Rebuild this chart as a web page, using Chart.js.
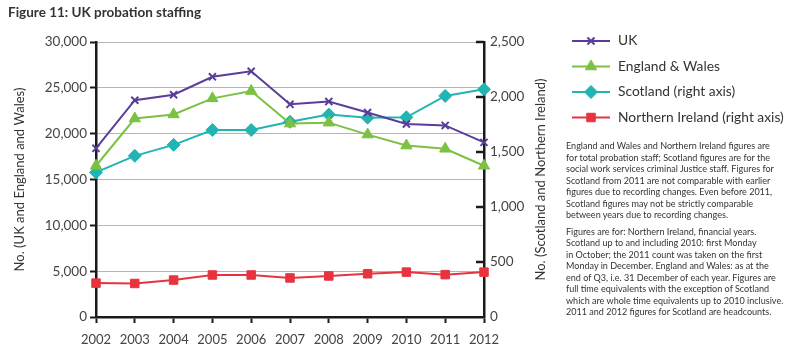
<!DOCTYPE html>
<html>
<head>
<meta charset="utf-8">
<script src="https://cdn.jsdelivr.net/npm/chart.js@4.4.1/dist/chart.umd.min.js"></script>
<style>
  html, body { margin: 0; padding: 0; background: #fff; }
  #wrap { position: relative; width: 800px; height: 356px; overflow: hidden; }
  #c { position: absolute; left: 0; top: 0; }
  #title { position: absolute; left: 8px; top: 4px; font: bold 13.5px Lato, sans-serif; color: #333; white-space: nowrap; }
  #notes { position: absolute; left: 566px; top: 140px; font-family: Lato, sans-serif; font-size: 9.9px; color: #333; line-height: 11.5px; white-space: nowrap; }
  #notes p { margin: 0 0 5px 0; }
</style>
</head>
<body>
<div id="wrap">
  <canvas id="c" width="800" height="356"></canvas>
  <div id="title">Figure 11: UK probation staffing</div>
  <div id="notes">
    <p>England and Wales and Northern Ireland figures are<br>for total probation staff; Scotland figures are for the<br>social work services criminal Justice staff. Figures for<br>Scotland from 2011 are not comparable with earlier<br>figures due to recording changes. Even before 2011,<br>Scotland figures may not be strictly comparable<br>between years due to recording changes.</p>
    <p>Figures are for: Northern Ireland, financial years.<br>Scotland up to and including 2010: first Monday<br>in October; the 2011 count was taken on the first<br>Monday in December. England and Wales: as at the<br>end of Q3, i.e. 31 December of each year. Figures are<br>full time equivalents with the exception of Scotland<br>which are whole time equivalents up to 2010 inclusive.<br>2011 and 2012 figures for Scotland are headcounts.</p>
  </div>
</div>
<script>
const years = ['2002','2003','2004','2005','2006','2007','2008','2009','2010','2011','2012'];
const ukValues = [18400, 23650, 24250, 26200, 26800, 23200, 23500, 22300, 21050, 20900, 19050];
const englandWalesValues = [16500, 21650, 22100, 23850, 24650, 21100, 21200, 19900, 18700, 18350, 16500];
const scotlandValues = [1315, 1465, 1565, 1700, 1700, 1775, 1840, 1812, 1815, 2010, 2070];
const northernIrelandValues = [308, 305, 336, 382, 382, 355, 373, 393, 408, 385, 408];
const leftTicks = [0, 5000, 10000, 15000, 20000, 25000, 30000];
const rightTicks = [0, 500, 1000, 1500, 2000, 2500];
const seriesNames = ['UK', 'England & Wales', 'Scotland (right axis)', 'Northern Ireland (right axis)'];
const leftAxisTitle = 'No. (UK and England and Wales)';
const rightAxisTitle = 'No. (Scotland and Northern Ireland)';

// fit the notes block so its widest line spans about 217px, like the reference
(function fitNotes() {
  const notes = document.getElementById('notes');
  const w = notes.getBoundingClientRect().width;
  if (w > 0) {
    const size = 9.9 * 217 / w;
    notes.style.fontSize = size.toFixed(2) + 'px';
  }
})();

const fmt = v => Number(v).toLocaleString('en-US');

const rightInnerTicks = {
  id: 'rightInnerTicks',
  afterDraw(chart) {
    const s = chart.scales.y1;
    const ctx = chart.ctx;
    ctx.save();
    ctx.strokeStyle = '#1a1a1a';
    ctx.lineWidth = 2.5;
    s.ticks.forEach(t => {
      if (t.value === 0) return;
      const y = Math.round(s.getPixelForValue(t.value));
      ctx.beginPath();
      ctx.moveTo(s.left - 8, y);
      ctx.lineTo(s.left, y);
      ctx.stroke();
    });
    const ca = chart.chartArea;
    ctx.translate(s.right - 19, (ca.top + ca.bottom) / 2);
    ctx.rotate(-Math.PI / 2);
    ctx.fillStyle = '#333';
    ctx.font = '13px Lato, sans-serif';
    ctx.textAlign = 'center';
    ctx.textBaseline = 'middle';
    ctx.fillText(rightAxisTitle, 0, 0);
    ctx.restore();
  }
};

const customLegend = {
  id: 'customLegend',
  afterDraw(chart) {
    const ctx = chart.ctx;
    ctx.save();
    const x0 = 572, x1 = 610, tx = 618;
    const rows = [41, 66.5, 92, 117.5];
    chart.data.datasets.forEach((ds, i) => {
      const y = rows[i];
      ctx.strokeStyle = ds.borderColor;
      ctx.lineWidth = 2;
      ctx.beginPath();
      ctx.moveTo(x0, y);
      ctx.lineTo(x1, y);
      ctx.stroke();
      ctx.fillStyle = ds.pointBackgroundColor;
      ctx.strokeStyle = ds.borderColor;
      ctx.lineWidth = ds.pointBorderWidth;
      Chart.helpers.drawPoint(ctx, { pointStyle: ds.pointStyle, radius: ds.pointRadius, borderWidth: ds.pointBorderWidth, rotation: 0 }, (x0 + x1) / 2, y);
      ctx.fillStyle = '#333';
      ctx.font = '13.8px Lato, sans-serif';
      ctx.textBaseline = 'middle';
      ctx.textAlign = 'left';
      ctx.fillText(ds.label, tx, y);
    });
    ctx.restore();
  }
};

const tickFont = { family: 'Lato, sans-serif', size: 13.5 };

new Chart(document.getElementById('c'), {
  type: 'line',
  data: {
    labels: years,
    datasets: [
      { label: seriesNames[0], data: ukValues, yAxisID: 'y', borderColor: '#5b3d99', backgroundColor: '#5b3d99', pointBackgroundColor: '#5b3d99', pointStyle: 'crossRot', pointRadius: 5, pointBorderWidth: 2, borderWidth: 2, tension: 0 },
      { label: seriesNames[1], data: englandWalesValues, yAxisID: 'y', borderColor: '#7cc142', backgroundColor: '#7cc142', pointBackgroundColor: '#7cc142', pointStyle: 'triangle', pointRadius: 6.5, pointBorderWidth: 1, borderWidth: 2, tension: 0 },
      { label: seriesNames[2], data: scotlandValues, yAxisID: 'y1', borderColor: '#22b4b2', backgroundColor: '#22b4b2', pointBackgroundColor: '#22b4b2', pointStyle: 'rectRot', pointRadius: 6.5, pointBorderWidth: 1, borderWidth: 2, tension: 0 },
      { label: seriesNames[3], data: northernIrelandValues, yAxisID: 'y1', borderColor: '#e8333f', backgroundColor: '#e8333f', pointBackgroundColor: '#e8333f', pointStyle: 'rect', pointRadius: 6, pointBorderWidth: 1, borderWidth: 2, tension: 0 }
    ]
  },
  options: {
    responsive: false,
    animation: false,
    devicePixelRatio: 1,
    layout: { padding: { top: 42, right: 240, left: 0, bottom: 0 } },
    plugins: { legend: { display: false }, tooltip: { enabled: false }, title: { display: false } },
    scales: {
      x: {
        type: 'category',
        offset: false,
        afterFit: s => { s.height = 39; },
        grid: { drawOnChartArea: false, drawTicks: true, tickLength: 6, tickColor: '#1a1a1a', tickWidth: 2 },
        border: { display: true, color: '#1a1a1a', width: 2.5 },
        ticks: { color: '#444', font: { family: 'Lato, sans-serif', size: 13 }, padding: 9, maxRotation: 0, autoSkip: false }
      },
      y: {
        position: 'left',
        min: 0, max: 30000,
        afterFit: s => { s.width = 96; },
        afterBuildTicks: s => { s.ticks = leftTicks.map(v => ({ value: v })); },
        grid: { color: '#b5b5b5', lineWidth: 1, drawTicks: true, tickLength: 6, tickColor: '#1a1a1a', tickWidth: 2 },
        border: { display: true, color: '#1a1a1a', width: 2.5 },
        ticks: { color: '#444', font: tickFont, padding: 3, callback: v => fmt(v) },
        title: { display: true, text: leftAxisTitle, color: '#333', font: { family: 'Lato, sans-serif', size: 13 }, padding: { top: 12, bottom: 0 } }
      },
      y1: {
        position: 'right',
        min: 0, max: 2500,
        afterFit: s => { s.width = 76; },
        afterBuildTicks: s => { s.ticks = rightTicks.map(v => ({ value: v })); },
        grid: { drawOnChartArea: false, drawTicks: false },
        border: { display: true, color: '#1a1a1a', width: 2.5 },
        ticks: { color: '#444', font: tickFont, padding: 6, callback: v => fmt(v) },
        title: { display: false }
      }
    }
  },
  plugins: [rightInnerTicks, customLegend]
});
</script>
</body>
</html>
